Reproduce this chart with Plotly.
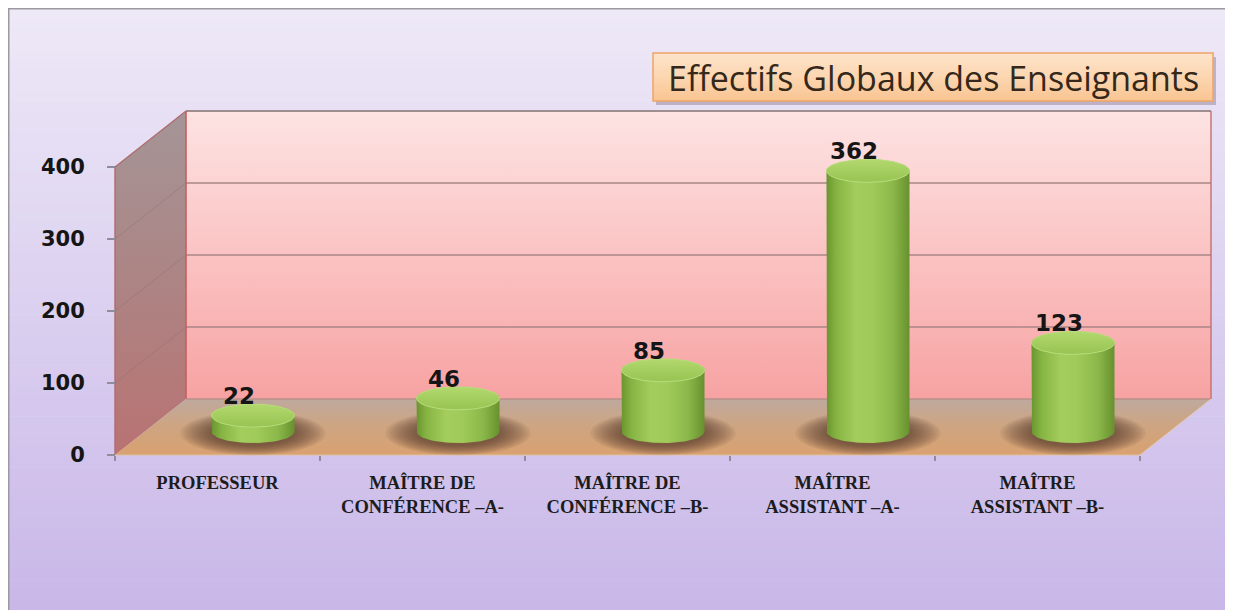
import numpy as np
import plotly.graph_objects as go

# ---------------- data ----------------
categories = ["PROFESSEUR",
              "MAÎTRE DE<br>CONFÉRENCE –A-",
              "MAÎTRE DE<br>CONFÉRENCE –B-",
              "MAÎTRE<br>ASSISTANT –A-",
              "MAÎTRE<br>ASSISTANT –B-"]
values = [22, 46, 85, 362, 123]
y_ticks = [0, 100, 200, 300, 400]
title_text = "Effectifs Globaux des Enseignants"

# ---------------- layout geometry ----------------
W, H = 1233, 610
OFF = 8.0                      # page body margin of the html page
PX_PER_CAT = 205.0
PX_PER_UNIT = 0.72
X0_PX = 217.5 - OFF            # figure pixel x of first category centre (front)
Y0_PX = 455.0 - OFF            # figure pixel y of value 0 (front floor edge)
DEPTH_PX = (71.0, 56.0)

DX = DEPTH_PX[0] / PX_PER_CAT
DY = DEPTH_PX[1] / PX_PER_UNIT
n = len(values)
YMAX = y_ticks[-1]
xr = [-X0_PX / PX_PER_CAT, (W - X0_PX) / PX_PER_CAT]
yr = [-(H - Y0_PX) / PX_PER_UNIT, Y0_PX / PX_PER_UNIT]
XL, XR = -0.5, n - 0.5

RX = 0.2025                       # cylinder radius (category units)
RY = 11.5 / PX_PER_UNIT           # ellipse half height (value units)
CYL_DX = DX * 0.5
CYL_BASE = DY * 0.42
LABEL_DX = -14.0 / PX_PER_CAT


def px2paper(x, y):
    return x / W, 1 - y / H


def lerp(c1, c2, t):
    return "rgb(%d,%d,%d)" % tuple(round(a + (b - a) * t) for a, b in zip(c1, c2))


shapes = []
# background gradient inside frame
FX0, FX1, FY0, FY1 = 0.5, 1226 - OFF, 0.5, 612
top_c, bot_c = (238, 233, 247), (200, 182, 232)
NB = 60
for k in range(NB):
    y0 = FY0 + (FY1 - FY0) * k / NB
    y1 = FY0 + (FY1 - FY0) * (k + 1) / NB + 0.6
    a = px2paper(FX0, y0)
    b = px2paper(FX1, y1)
    shapes.append(dict(type="rect", xref="paper", yref="paper", layer="below",
                       x0=a[0], x1=b[0], y0=a[1], y1=b[1], line=dict(width=0),
                       fillcolor=lerp(top_c, bot_c, (k + 0.5) / NB)))
a = px2paper(FX0, FY0)
b = px2paper(FX1, FY1)
shapes.append(dict(type="rect", xref="paper", yref="paper", layer="below",
                   x0=a[0], x1=b[0], y0=a[1], y1=b[1],
                   line=dict(width=2, color="#9c9aa0"), fillcolor="rgba(0,0,0,0)"))

# title box (shadow, gradient, border)
BX0, BX1, BY0, BY1 = 653 - OFF, 1213 - OFF, 53 - OFF, 101 - OFF
a = px2paper(BX0 + 3, BY0 + 4)
b = px2paper(BX1 + 3, BY1 + 4)
shapes.append(dict(type="rect", xref="paper", yref="paper", layer="above",
                   x0=a[0], x1=b[0], y0=a[1], y1=b[1], line=dict(width=0),
                   fillcolor="rgba(110,90,110,0.35)"))
bt, bm, bb = (253, 228, 204), (252, 214, 176), (249, 196, 146)
NB2 = 24
for k in range(NB2):
    y0 = BY0 + (BY1 - BY0) * k / NB2
    y1 = BY0 + (BY1 - BY0) * (k + 1) / NB2 + 0.6
    t = (k + 0.5) / NB2
    col = lerp(bt, bm, t * 2) if t < 0.5 else lerp(bm, bb, (t - 0.5) * 2)
    a = px2paper(BX0, y0)
    b = px2paper(BX1, min(y1, BY1))
    shapes.append(dict(type="rect", xref="paper", yref="paper", layer="above",
                       x0=a[0], x1=b[0], y0=a[1], y1=b[1], line=dict(width=0),
                       fillcolor=col))
a = px2paper(BX0, BY0)
b = px2paper(BX1, BY1)
shapes.append(dict(type="rect", xref="paper", yref="paper", layer="above",
                   x0=a[0], x1=b[0], y0=a[1], y1=b[1],
                   line=dict(width=1.5, color="#efa466"), fillcolor="rgba(0,0,0,0)"))

traces = []


def poly(xs, ys, gtype, cs, start=None, stop=None, opacity=1.0, line=None):
    xs = list(xs) + [xs[0]]
    ys = list(ys) + [ys[0]]
    fg = dict(type=gtype, colorscale=cs)
    if start is not None:
        fg["start"] = start
        fg["stop"] = stop
    return go.Scatter(x=xs, y=ys, mode="lines", fill="toself",
                      line=line or dict(width=0, color="rgba(0,0,0,0)"),
                      fillgradient=fg, opacity=opacity,
                      hoverinfo="skip", showlegend=False)


def solid(xs, ys, color, opacity=1.0):
    xs = list(xs) + [xs[0]]
    ys = list(ys) + [ys[0]]
    return go.Scatter(x=xs, y=ys, mode="lines", fill="toself",
                      line=dict(width=0, color="rgba(0,0,0,0)"), fillcolor=color,
                      opacity=opacity, hoverinfo="skip", showlegend=False)


def seg(xs, ys, color, width=1.0):
    return go.Scatter(x=xs, y=ys, mode="lines", line=dict(color=color, width=width),
                      hoverinfo="skip", showlegend=False)


# back wall
traces.append(poly([XL + DX, XR + DX, XR + DX, XL + DX], [DY, DY, YMAX + DY, YMAX + DY],
                   "vertical", [[0, "#f7a2a2"], [0.5, "#fbc3c3"], [1, "#fde3e3"]],
                   DY, YMAX + DY))
# side wall
traces.append(poly([XL, XL + DX, XL + DX, XL], [0, DY, YMAX + DY, YMAX],
                   "vertical", [[0, "#b97272"], [0.5, "#ad8484"], [1, "#a49597"]],
                   0, YMAX + DY))
# floor
traces.append(poly([XL, XR, XR + DX, XL + DX], [0, 0, DY, DY],
                   "vertical", [[0, "#d9a170"], [0.55, "#cda583"], [1, "#bea99e"]],
                   0, DY))

# gridlines on back wall and side wall
for v in y_ticks[1:-1]:
    traces.append(seg([XL + DX, XR + DX], [v + DY, v + DY], "#a88686", 1.6))
    traces.append(seg([XL, XL + DX], [v, v + DY], "rgba(140,110,110,0.45)", 1.0))
traces.append(seg([XL + DX, XR + DX], [YMAX + DY, YMAX + DY], "#9e8e90", 2.0))
traces.append(seg([XL, XL + DX], [YMAX, YMAX + DY], "#b06a6a", 1.2))
# edges
traces.append(seg([XL + DX, XL + DX], [DY, YMAX + DY], "#c46060", 1.6))
traces.append(seg([XR + DX, XR + DX], [DY, YMAX + DY], "#c27070", 1.4))
traces.append(seg([XL + DX, XR + DX], [DY, DY], "#b89088", 1.4))
traces.append(seg([XL, XL], [0, YMAX], "#b06a70", 1.4))
traces.append(seg([XL, XR], [0, 0], "#e2c29e", 1.2))
traces.append(seg([XR, XR + DX], [0, DY], "#e6c8a8", 1.0))

# cylinders
body_cs = [[0, "#6a952f"], [0.12, "#86b443"], [0.35, "#a3cd5d"], [0.55, "#a0cb5a"],
           [0.8, "#8bb84a"], [1, "#68912e"]]
top_cs = [[0, "#97c452"], [1, "#b2d86e"]]
t_half = np.linspace(np.pi, 2 * np.pi, 40)
t_up = np.linspace(0, np.pi, 40)
t_full = np.linspace(0, 2 * np.pi, 80)
shadow_steps = np.linspace(1.0, 1.75, 12)
label_x, label_y = [], []
for i, v in enumerate(values):
    cx = i + CYL_DX
    base = CYL_BASE
    top = base + v
    # soft shadow
    for sc in shadow_steps[::-1]:
        traces.append(solid(cx + RX * sc * np.cos(t_full),
                            base - RY * 0.15 + RY * 1.1 * sc * np.sin(t_full),
                            "rgb(78,48,36)", 0.08))
    xs = [cx - RX, cx - RX] + list(cx + RX * np.cos(t_half)) + [cx + RX, cx + RX] + \
        list(cx + RX * np.cos(t_up))
    ys = [top, base] + list(base + RY * np.sin(t_half)) + [base, top] + \
        list(top + RY * np.sin(t_up))
    traces.append(poly(xs, ys, "horizontal", body_cs, cx - RX, cx + RX))
    traces.append(poly(cx + RX * np.cos(t_full), top + RY * np.sin(t_full), "vertical",
                       top_cs, top - RY, top + RY,
                       line=dict(width=1, color="#b9dd7c")))
    label_x.append(cx + LABEL_DX)
    label_y.append(top + RY * 0.5)

traces.append(go.Scatter(x=label_x, y=label_y, mode="text", text=[str(v) for v in values],
                         textposition="top center",
                         textfont=dict(family="DejaVu Sans", size=23, color="#151515",
                                       weight="bold"),
                         hoverinfo="skip", showlegend=False))

fig = go.Figure(traces)
tc = px2paper((BX0 + BX1) / 2, (BY0 + BY1) / 2 + 1)
fig.update_layout(
    width=W, height=H, margin=dict(l=0, r=0, t=0, b=0),
    paper_bgcolor="white", plot_bgcolor="rgba(0,0,0,0)",
    shapes=shapes, showlegend=False,
    annotations=[dict(xref="paper", yref="paper", x=tc[0], y=tc[1], text=title_text,
                      showarrow=False, xanchor="center", yanchor="middle",
                      font=dict(family="Open Sans", size=34, color="#35281a"))],
    xaxis=dict(range=xr, anchor="free", position=(H - Y0_PX) / H, tickmode="array",
               tickvals=list(range(n)), ticktext=categories, ticks="",
               showgrid=False, zeroline=False, showline=False, fixedrange=True,
               tickfont=dict(family="Liberation Serif", size=18.5, color="#1c1c1c",
                             weight="bold"),
               ticklabelstandoff=14,
               minor=dict(tickmode="array", tickvals=[i - 0.5 for i in range(n + 1)],
                          ticks="outside", ticklen=5, tickcolor="#8f8c9c", tickwidth=1.5,
                          showgrid=False)),
    yaxis=dict(range=yr, anchor="free", position=(X0_PX - PX_PER_CAT / 2) / W,
               tickmode="array", tickvals=y_ticks, ticks="outside", ticklen=8,
               tickcolor="#8f8c9c", tickwidth=1.5, showgrid=False, zeroline=False,
               showline=False, fixedrange=True, ticklabelstandoff=18,
               tickfont=dict(family="DejaVu Sans", size=21, color="#151515",
                             weight="bold")),
)
fig.write_html("out.html")
